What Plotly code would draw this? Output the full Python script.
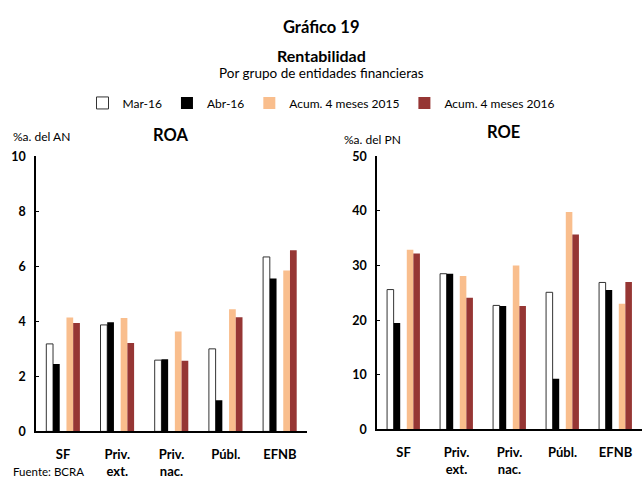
import plotly.graph_objects as go

W, H = 642, 482

categorias = ["SF", "Priv.<br>ext.", "Priv.<br>nac.", "Públ.", "EFNB"]
series = ["Mar-16", "Abr-16", "Acum. 4 meses 2015", "Acum. 4 meses 2016"]

roa_mar16 = [3.18, 3.87, 2.59, 3.00, 6.34]
roa_abr16 = [2.45, 3.97, 2.62, 1.13, 5.56]
roa_acum15 = [4.14, 4.12, 3.63, 4.44, 5.85]
roa_acum16 = [3.94, 3.21, 2.57, 4.15, 6.58]

roe_mar16 = [25.6, 28.5, 22.7, 25.1, 26.9]
roe_abr16 = [19.5, 28.5, 22.6, 9.3, 25.5]
roe_acum15 = [32.9, 28.1, 30.0, 39.8, 23.0]
roe_acum16 = [32.2, 24.1, 22.6, 35.7, 27.0]

roa_ticks = [0, 2, 4, 6, 8, 10]
roe_ticks = [0, 10, 20, 30, 40, 50]

FONT = "Lato"
fills = ["#ffffff", "#000000", "#f9be8d", "#963634"]
edges = ["#333333", "#000000", "#f9be8d", "#963634"]
bw = 0.124
offsets = [-2.5 * bw, -1.5 * bw, 0.5 * bw, 1.5 * bw]

fig = go.Figure()

roa_data = [roa_mar16, roa_abr16, roa_acum15, roa_acum16]
roe_data = [roe_mar16, roe_abr16, roe_acum15, roe_acum16]

for i, name in enumerate(series):
    mk = dict(color=fills[i], line=dict(color=edges[i], width=1 if i == 0 else 0))
    fig.add_trace(go.Bar(
        x=categorias, y=roa_data[i], name=name, xaxis="x", yaxis="y",
        width=bw, offset=offsets[i], legendgroup=name, marker=mk,
    ))
    fig.add_trace(go.Bar(
        x=categorias, y=roe_data[i], name=name, xaxis="x2", yaxis="y2",
        width=bw, offset=offsets[i], legendgroup=name, showlegend=False, marker=mk,
    ))


def py(px):
    return 1 - px / H


def px_x(px):
    return px / W


axis_common = dict(showgrid=False, zeroline=False, showline=True, linecolor="black",
                   linewidth=1.5)
xfont = dict(size=13, family=FONT, weight="bold")
yfont = dict(size=12.5, family=FONT, weight="bold")

fig.update_layout(
    width=W, height=H,
    margin=dict(l=0, r=0, t=0, b=0),
    paper_bgcolor="white", plot_bgcolor="white",
    barmode="overlay",
    font=dict(family=FONT, color="black"),
    xaxis=dict(domain=[px_x(36), px_x(307)], **axis_common, ticks="",
               tickfont=xfont, ticklabelstandoff=10, anchor="y"),
    yaxis=dict(domain=[py(437), py(153)], range=[0, 10], tickvals=roa_ticks, **axis_common,
               ticks="inside", ticklen=3, tickcolor="black",
               tickfont=yfont, ticklabelstandoff=6, anchor="x"),
    xaxis2=dict(domain=[px_x(377), 1.0], **axis_common, ticks="",
                tickfont=xfont, ticklabelstandoff=10, anchor="y2"),
    yaxis2=dict(domain=[py(435), py(153)], range=[0, 50], tickvals=roe_ticks, **axis_common,
                ticks="inside", ticklen=3, tickcolor="black",
                tickfont=yfont, ticklabelstandoff=6, anchor="x2"),
    legend=dict(orientation="h", x=0.5, xanchor="center", y=py(98), yanchor="middle",
                font=dict(size=12, family=FONT), itemwidth=30, tracegroupgap=0,
                bgcolor="rgba(0,0,0,0)"),
    showlegend=True,
)

notes = [
    dict(text="<b>Gráfico 19</b>", x=0.5, y=py(20), size=16.5, xanchor="center"),
    dict(text="<b>Rentabilidad</b>", x=0.5, y=py(49), size=16, xanchor="center"),
    dict(text="Por grupo de entidades financieras", x=0.5, y=py(67), size=13.5, xanchor="center"),
    dict(text="%a. del AN", x=px_x(11), y=py(133), size=12, xanchor="left"),
    dict(text="<b>ROA</b>", x=px_x(171), y=py(131), size=16.5, xanchor="center"),
    dict(text="<b>ROE</b>", x=px_x(503), y=py(128), size=16.5, xanchor="center"),
    dict(text="%a. del PN", x=px_x(342), y=py(136), size=12, xanchor="left"),
]
for n in notes:
    fig.add_annotation(text=n["text"], x=n["x"], y=n["y"], xref="paper", yref="paper",
                       xanchor=n["xanchor"], yanchor="middle", showarrow=False,
                       font=dict(size=n["size"], family=FONT, color="black"))

# source note sits at the very foot of the page
fig.add_annotation(text="Fuente: BCRA", x=px_x(11), y=0, xref="paper", yref="paper",
                   xanchor="left", yanchor="middle", yshift=4, showarrow=False,
                   font=dict(size=11.5, family=FONT, color="black"))

fig.write_html("out.html")
